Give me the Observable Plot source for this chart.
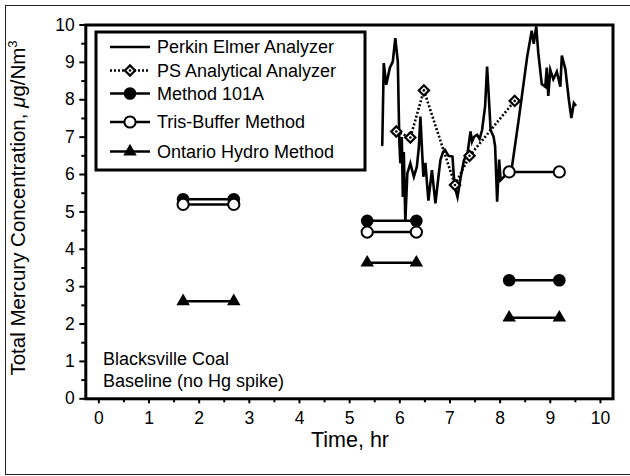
<!DOCTYPE html>
<html><head><meta charset="utf-8">
<script src="https://cdn.jsdelivr.net/npm/d3@7"></script>
<script src="https://cdn.jsdelivr.net/npm/@observablehq/plot@0.6"></script>
<style>
html,body{margin:0;padding:0;background:#fff;overflow:hidden;}
#wrap{position:relative;width:630px;height:476px;overflow:hidden;}
#border{position:absolute;left:5px;top:5px;width:640px;height:468px;border:1.5px solid #222;}
#chart{position:absolute;left:0;top:0;}
</style>
</head><body>
<div id="wrap"><div id="border"></div><div id="chart"></div></div>
<script>
// ---- data ----
const seriesNames = ["Perkin Elmer Analyzer", "PS Analytical Analyzer", "Method 101A", "Tris-Buffer Method", "Ontario Hydro Method"];
const xTicks = [0,1,2,3,4,5,6,7,8,9,10];
const yTicks = [0,1,2,3,4,5,6,7,8,9,10];
const xMinor = [0.5,1.5,2.5,3.5,4.5,5.5,6.5,7.5,8.5,9.5];
const yMinor = [0.5,1.5,2.5,3.5,4.5,5.5,6.5,7.5,8.5,9.5];

const peTime = [5.65,5.68,5.73,5.80,5.86,5.91,5.96,5.99,6.01,6.04,6.06,6.08,6.11,6.15,6.21,6.28,6.34,6.38,6.41,6.47,6.51,6.57,6.64,6.71,6.77,6.81,6.86,6.90,6.97,7.05,7.09,7.15,7.21,7.28,7.35,7.41,7.44,7.48,7.54,7.59,7.64,7.70,7.74,7.77,7.81,7.87,7.90,7.94,7.98,8.01,8.23,8.37,8.54,8.63,8.67,8.72,8.76,8.83,8.90,8.93,8.96,9.00,9.06,9.13,9.20,9.23,9.30,9.37,9.42,9.47,9.50];
const peConc = [6.79,8.98,8.40,8.85,9.02,9.65,9.02,6.90,6.30,7.00,5.40,6.60,4.75,6.03,6.30,5.94,6.21,6.74,7.55,5.94,6.31,5.30,6.12,5.23,5.94,6.39,6.60,6.66,6.50,6.48,5.70,5.40,5.90,6.39,6.57,7.15,6.88,7.01,7.06,6.95,7.19,7.82,8.89,8.18,7.19,7.01,6.75,5.27,6.40,5.85,6.15,7.47,9.16,9.85,9.50,9.96,9.26,8.42,8.35,8.86,8.10,8.80,8.55,8.75,8.35,9.18,8.82,8.00,7.51,7.91,7.86];

const psTime = [5.93,6.21,6.48,7.10,7.39,8.29];
const psConc = [7.15,6.99,8.25,5.72,6.50,7.97];

const runStart = [1.68,5.35,8.18];
const runEnd   = [2.69,6.33,9.18];
const m101a   = [5.34,4.76,3.17];
const tris    = [5.20,4.46,6.07];
const ontario = [2.61,3.64,2.17];

// ---- tables ----
const pe = peTime.map((t,i)=>({x:t,y:peConc[i]}));
const ps = psTime.map((t,i)=>({x:t,y:psConc[i]}));
const runs = runStart.map((s,i)=>({x1:s,x2:runEnd[i],m:m101a[i],t:tris[i],o:ontario[i]}));
const ends = runs.flatMap(r=>[{x:r.x1,m:r.m,t:r.t,o:r.o},{x:r.x2,m:r.m,t:r.t,o:r.o}]);

const FONT = "'Liberation Sans', Arial, Helvetica, sans-serif";

const chart = Plot.plot({
  width: 630, height: 476,
  marginLeft: 85.3, marginRight: 17.5, marginTop: 24.5, marginBottom: 77.7,
  x: {domain: [-0.26, 10.25]},
  y: {domain: [0, 10]},
  style: {fontFamily: FONT, fontSize: "17.5px", color: "#000", background: "transparent", overflow: "visible"},
  marks: [
    Plot.axisX(xTicks, {tickSize: 5, tickPadding: 8, strokeWidth: 2, label: null}),
    Plot.axisX(xMinor, {tickSize: 4, strokeWidth: 2, tickFormat: () => "", label: null}),
    Plot.axisY(yTicks, {tickSize: 6, tickPadding: 5, strokeWidth: 2, label: null}),
    Plot.axisY(yMinor, {tickSize: 4, strokeWidth: 2, tickFormat: () => "", label: null}),
    Plot.line(pe, {x: "x", y: "y", stroke: "#000", strokeWidth: 2.6, strokeLinejoin: "miter", strokeMiterlimit: 6}),
    Plot.line(ps, {x: "x", y: "y", stroke: "#000", strokeWidth: 2.6, strokeDasharray: "2,2", strokeLinecap: "butt"}),
    Plot.link(runs, {x1: "x1", x2: "x2", y1: "m", y2: "m", stroke: "#000", strokeWidth: 2.5}),
    Plot.link(runs, {x1: "x1", x2: "x2", y1: "t", y2: "t", stroke: "#000", strokeWidth: 2.5}),
    Plot.link(runs, {x1: "x1", x2: "x2", y1: "o", y2: "o", stroke: "#000", strokeWidth: 2.5}),
    Plot.dot(ps, {x: "x", y: "y", symbol: "diamond2", r: 4.6, fill: "#fff", stroke: "#000", strokeWidth: 2.2}),
    Plot.dot(ps, {x: "x", y: "y", r: 1.3, fill: "#000"}),
    Plot.dot(ends, {x: "x", y: "m", r: 6.3, fill: "#000", stroke: "none"}),
    Plot.dot(ends, {x: "x", y: "t", r: 5.6, fill: "#fff", stroke: "#000", strokeWidth: 2}),
    Plot.dot(ends, {x: "x", y: "o", symbol: "triangle", r: 5, fill: "#000", stroke: "none"}),
    Plot.frame({stroke: "#000", strokeWidth: 3})
  ]
});
document.getElementById("chart").appendChild(chart);

const svg = d3.select(chart);
// y-axis title
const yl = svg.append("text")
  .attr("transform", "translate(25,208) rotate(-90)")
  .attr("text-anchor", "middle")
  .attr("font-family", FONT).attr("font-size", 20.5).attr("fill", "#000");
yl.append("tspan").text("Total Mercury Concentration, ");
yl.append("tspan").attr("font-style", "italic").text("\u03bc");
yl.append("tspan").text("g/Nm");
yl.append("tspan").attr("font-size", 13).attr("dy", -8).text("3");
// x-axis title
svg.append("text").attr("x", 350).attr("y", 447).attr("text-anchor", "middle")
  .attr("font-family", FONT).attr("font-size", 21.5).attr("fill", "#000").text("Time, hr");

// annotation
const ann = svg.append("g").attr("font-family", FONT).attr("font-size", 18).attr("fill", "#000").attr("text-anchor", "start");
ann.append("text").attr("x", 103).attr("y", 365).text("Blacksville Coal");
ann.append("text").attr("x", 103).attr("y", 387).text("Baseline (no Hg spike)");

// legend
const lg = svg.append("g").attr("font-family", FONT).attr("font-size", 18).attr("text-anchor", "start");
lg.append("rect").attr("x", 96).attr("y", 32).attr("width", 269).attr("height", 138)
  .attr("fill", "#fff").attr("stroke", "#000").attr("stroke-width", 3);
const rowsY = [47, 70.5, 93.5, 122, 151.5];
const x0 = 110, x1 = 150, xm = 130;
rowsY.forEach((ry, i) => {
  const g = lg.append("g");
  g.append("line").attr("x1", x0).attr("x2", x1).attr("y1", ry).attr("y2", ry)
    .attr("stroke", "#000").attr("stroke-width", 2.5)
    .attr("stroke-dasharray", i === 1 ? "2,2" : null);
  if (i === 1) {
    g.append("path").attr("d", d3.symbol(d3.symbolDiamond2, Math.PI * 4.6 * 4.6)())
      .attr("transform", `translate(${xm},${ry})`).attr("fill", "#fff").attr("stroke", "#000").attr("stroke-width", 2.2);
    g.append("circle").attr("cx", xm).attr("cy", ry).attr("r", 1.3).attr("fill", "#000");
  } else if (i === 2) {
    g.append("circle").attr("cx", xm).attr("cy", ry).attr("r", 6.3).attr("fill", "#000");
  } else if (i === 3) {
    g.append("circle").attr("cx", xm).attr("cy", ry).attr("r", 5.6).attr("fill", "#fff").attr("stroke", "#000").attr("stroke-width", 2);
  } else if (i === 4) {
    g.append("path").attr("d", d3.symbol(d3.symbolTriangle, Math.PI * 25)())
      .attr("transform", `translate(${xm},${ry})`).attr("fill", "#000");
  }
  g.append("text").attr("x", 157).attr("y", ry).attr("dy", "0.35em").attr("fill", "#000").text(seriesNames[i]);
});
</script>
</body></html>
